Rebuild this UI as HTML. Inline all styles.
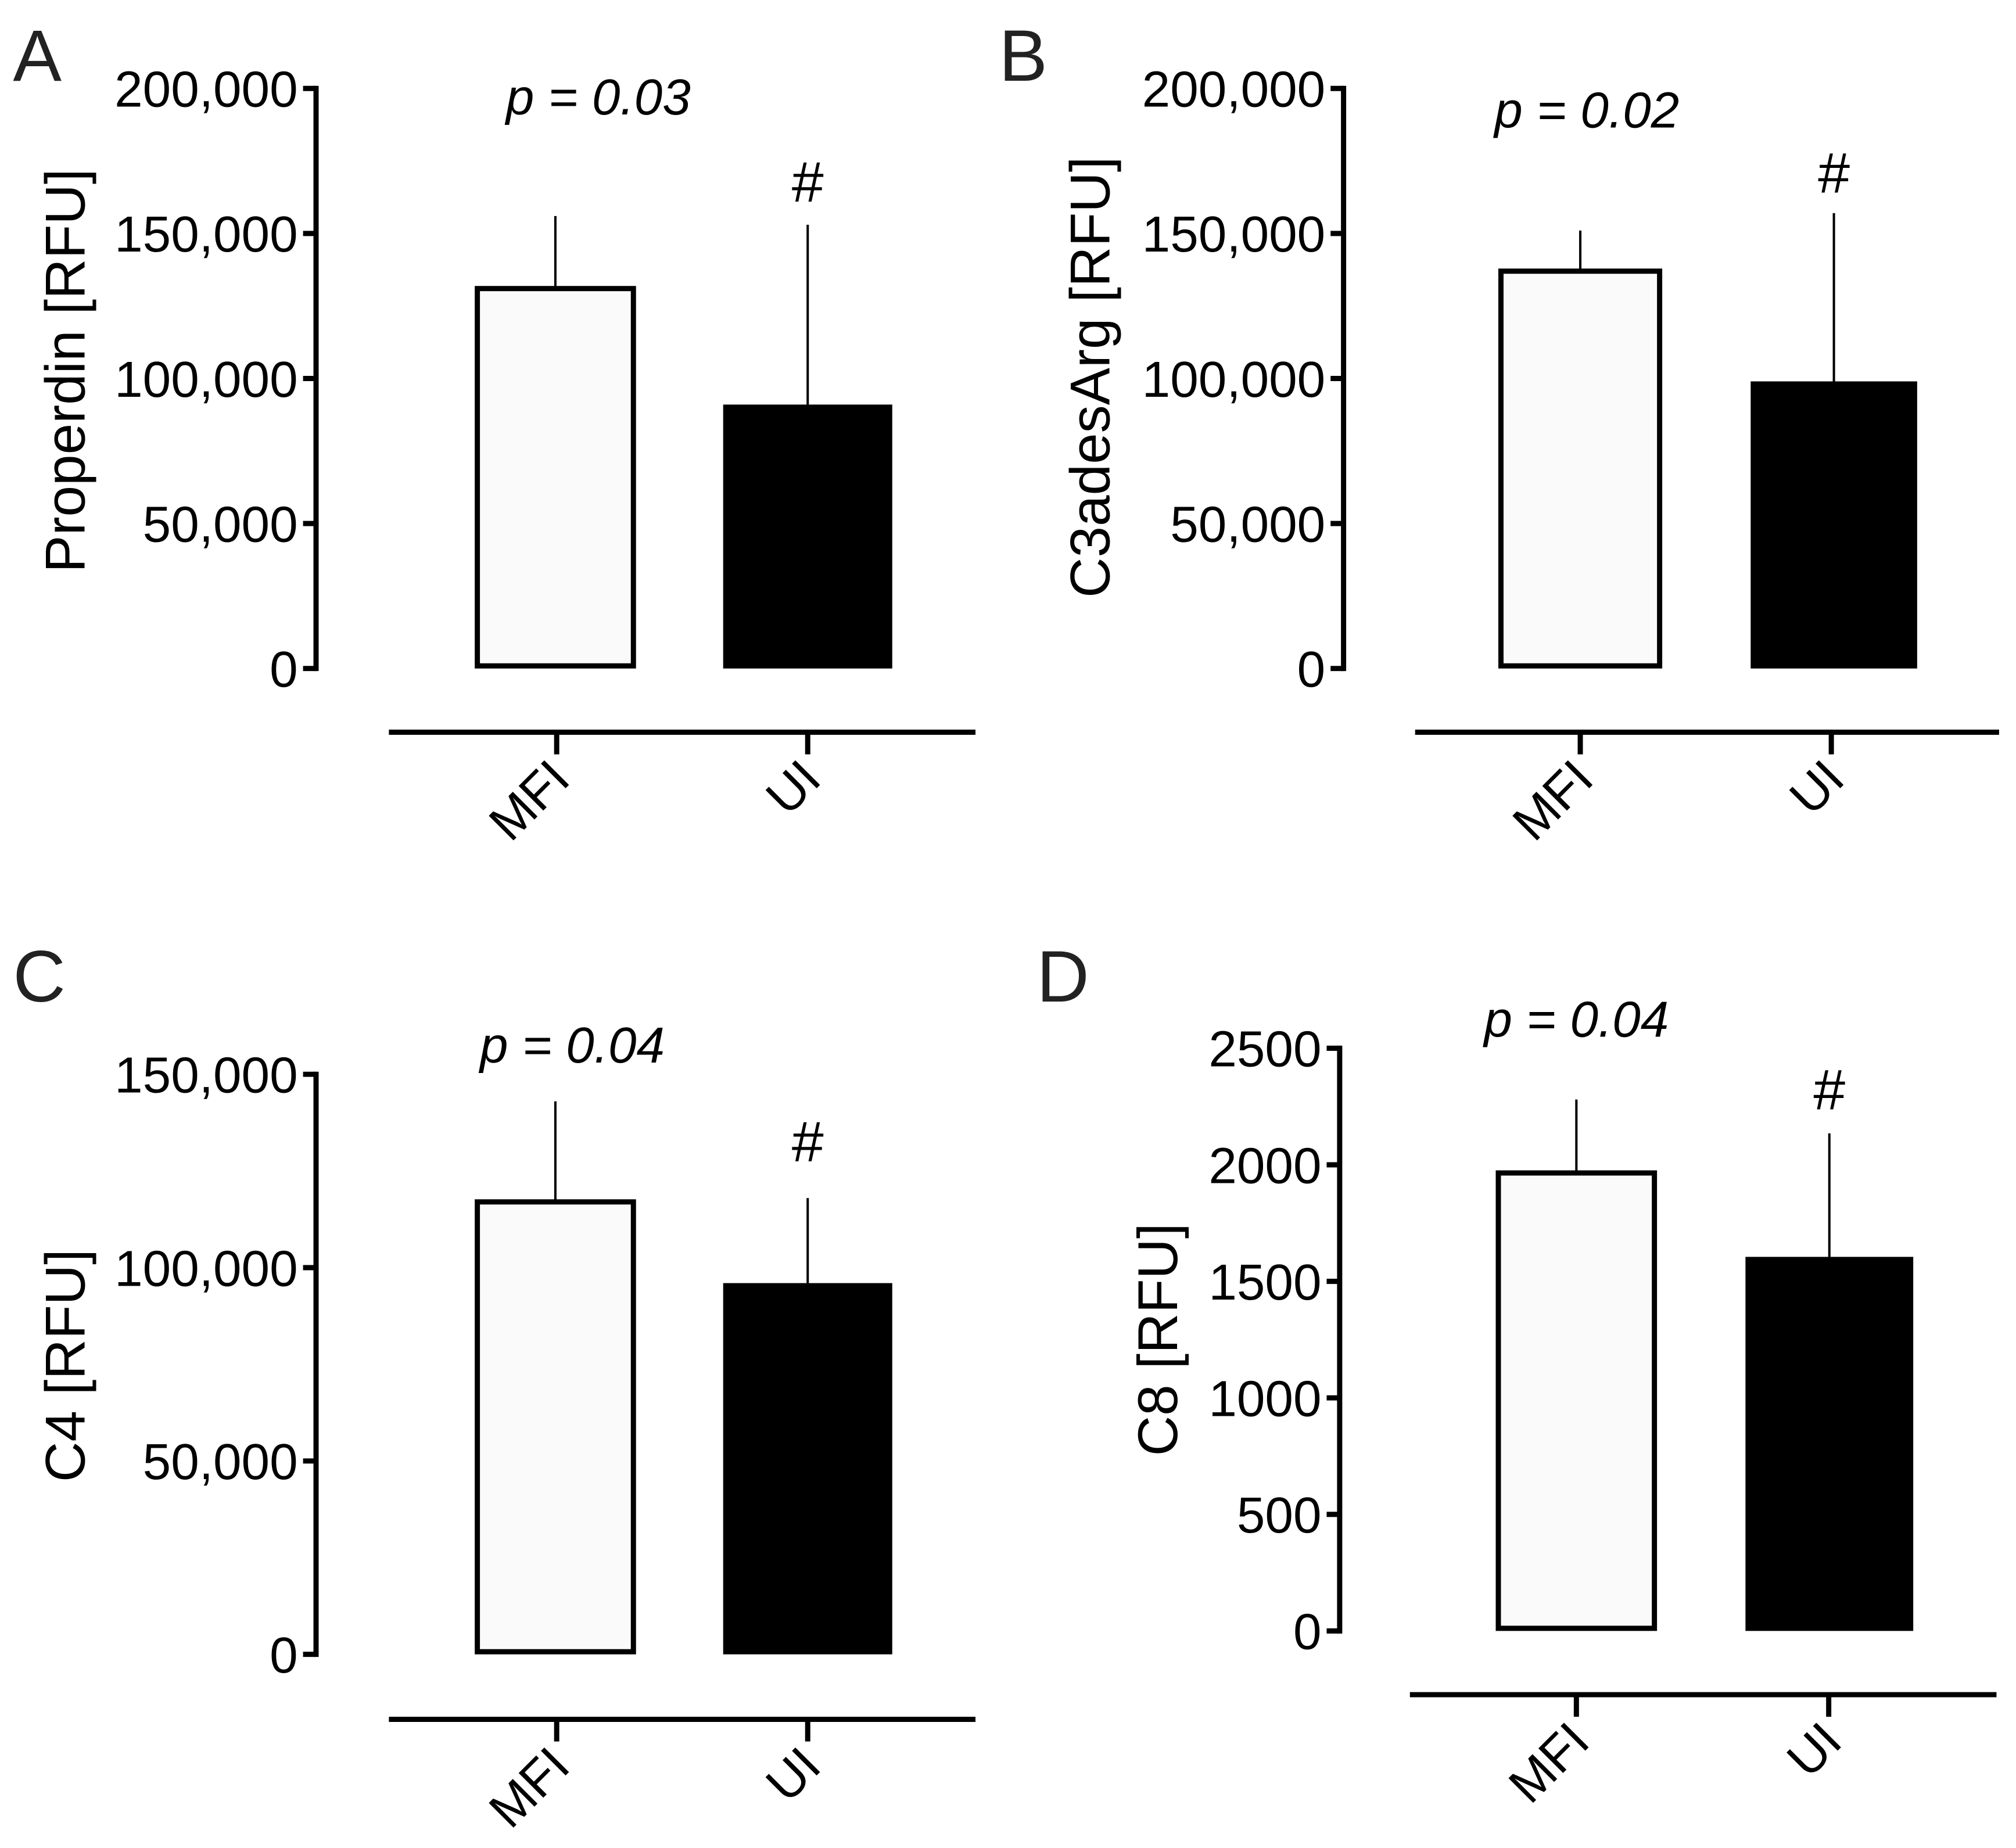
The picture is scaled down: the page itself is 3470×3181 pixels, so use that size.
<!DOCTYPE html>
<html><head><meta charset="utf-8"><style>
html,body{margin:0;padding:0;background:#fff;}
svg{display:block;font-family:"Liberation Sans",Arial,sans-serif;}
</style></head><body>
<svg id="fig" width="3470" height="3181" viewBox="0 0 1550 1420.9" xmlns="http://www.w3.org/2000/svg"></svg>
<script>
const categories = ["MFI", "UI"];
const panelLetters = ["A", "B", "C", "D"];
const yTitles = ["Properdin [RFU]", "C3adesArg [RFU]", "C4 [RFU]", "C8 [RFU]"];
const pLabels = ["p = 0.03", "p = 0.02", "p = 0.04", "p = 0.04"];
const meansA = [131000, 91000];
const errA = [156000, 153000];
const meansB = [137000, 99000];
const errB = [151000, 157000];
const meansC = [117000, 96000];
const errC = [143000, 118000];
const meansD = [1965, 1605];
const errD = [2280, 2135];
const ticksA = [0, 50000, 100000, 150000, 200000];
const ticksB = [0, 50000, 100000, 150000, 200000];
const ticksC = [0, 50000, 100000, 150000];
const ticksD = [0, 500, 1000, 1500, 2000, 2500];
const tickLabelsA = ["0", "50,000", "100,000", "150,000", "200,000"];
const tickLabelsB = ["0", "50,000", "100,000", "150,000", "200,000"];
const tickLabelsC = ["0", "50,000", "100,000", "150,000"];
const tickLabelsD = ["0", "500", "1000", "1500", "2000", "2500"];

const svg = document.getElementById('fig');
const NS = 'http://www.w3.org/2000/svg';
function mk(tag, attrs, parent) {
  const e = document.createElementNS(NS, tag);
  for (const k in attrs) e.setAttribute(k, attrs[k]);
  (parent || svg).appendChild(e);
  return e;
}

const layouts = [
  {ax:243, top:68, bot:514, b1:[365,489], b2:[556,686], xl:[299,750], xy:563, xt:[428,621], lx:10, ly:62, tx:50, ty:285, px:460, py:88, hy:155},
  {ax:1033, top:68, bot:514, b1:[1152,1278], b2:[1346,1474], xl:[1088,1537], xy:563, xt:[1215,1408], lx:768, ly:62, tx:838, ty:290, px:1220, py:98, hy:148},
  {ax:243, top:826, bot:1272, b1:[365,489], b2:[556,686], xl:[299,750], xy:1322, xt:[428,621], lx:10, ly:770, tx:50, ty:1050, px:440, py:817, hy:893},
  {ax:1030, top:806, bot:1254, b1:[1150,1274], b2:[1342,1471], xl:[1084,1535], xy:1303, xt:[1212,1406], lx:797, ly:770, tx:890, ty:1030, px:1212, py:797, hy:853}
];
const means = [meansA, meansB, meansC, meansD];
const errs = [errA, errB, errC, errD];
const ticks = [ticksA, ticksB, ticksC, ticksD];
const tickLabels = [tickLabelsA, tickLabelsB, tickLabelsC, tickLabelsD];

layouts.forEach((L, i) => {
  const g = mk('g', {});
  
  
  const tk = ticks[i];
  const ymax = tk[tk.length - 1];
  const y = v => L.bot - (v / ymax) * (L.bot - L.top);

  const letter = mk('text', {x:L.lx, y:L.ly, 'font-size':56, fill:'#222'}, g);
  letter.textContent = panelLetters[i];
  
  

  const yaxis = mk('line', {x1:L.ax, x2:L.ax, y1:L.top - 2, y2:L.bot + 2, stroke:'#000', 'stroke-width':4}, g);
  
  
  tk.forEach((t, j) => {
    const ty = y(t);
    const tl = mk('line', {x1:L.ax - 10, x2:L.ax, y1:ty, y2:ty, stroke:'#000', 'stroke-width':4}, g);
    
    
    const lab = mk('text', {x:L.ax - 14, y:ty + 14, 'font-size':39, 'text-anchor':'end'}, g);
    lab.textContent = tickLabels[i][j];
    
    
  });
  const yt = mk('text', {x:0, y:0, 'font-size':43, 'text-anchor':'middle', transform:`translate(${L.tx + 15},${L.ty}) rotate(-90)`}, g);
  yt.textContent = yTitles[i];
  
  

  [L.b1, L.b2].forEach((b, k) => {
    const cx = (b[0] + b[1]) / 2;
    const eb = mk('line', {x1:cx, x2:cx, y1:y(errs[i][k]), y2:y(means[i][k]), stroke:'#000', 'stroke-width':1.8}, g);
    
    
    let r;
    if (k === 0) {
      r = mk('rect', {x:b[0] + 2, y:y(means[i][k]), width:b[1] - b[0] - 4, height:L.bot - 2 - y(means[i][k]), fill:'#fafafa', stroke:'#000', 'stroke-width':4}, g);
    } else {
      r = mk('rect', {x:b[0], y:y(means[i][k]), width:b[1] - b[0], height:L.bot - y(means[i][k]), fill:'#000'}, g);
    }
    
    
  });

  const xa = mk('line', {x1:L.xl[0], x2:L.xl[1], y1:L.xy, y2:L.xy, stroke:'#000', 'stroke-width':4}, g);
  
  
  L.xt.forEach((xx, k) => {
    const t = mk('line', {x1:xx, x2:xx, y1:L.xy, y2:L.xy + 17, stroke:'#000', 'stroke-width':4}, g);
    
    
    const lab = mk('text', {x:0, y:0, 'font-size':39, 'text-anchor':'end', transform:`translate(${xx + 12},${L.xy + 38}) rotate(-45)`}, g);
    lab.textContent = categories[k];
    
    
  });

  const p = mk('text', {x:L.px, y:L.py, 'font-size':39, 'font-style':'italic', 'text-anchor':'middle'}, g);
  p.textContent = pLabels[i];
  
  
  const h = mk('text', {x:(L.b2[0] + L.b2[1]) / 2, y:L.hy, 'font-size':44, 'text-anchor':'middle'}, g);
  h.textContent = '#';
  
  
});
</script>
</body></html>
